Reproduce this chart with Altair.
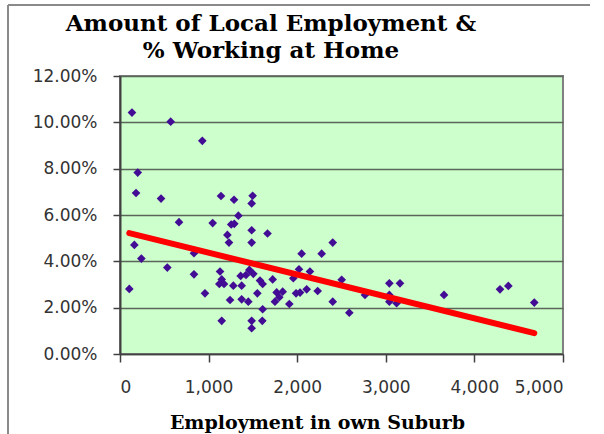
import altair as alt
import pandas as pd

# Employment in own suburb (x) and share working at home (y, fraction)
employment = [135, 572, 929, 200, 181, 463, 1140, 1287, 1497, 1486,
              1336, 666, 1046, 1255, 1290, 1486, 1665, 1212, 1230, 1486,
              162, 241, 835, 534, 835, 105,
              1129, 1148, 1121, 1174, 1279, 1373, 1362, 1422, 1460, 1505,
              1580, 1610, 1723, 959, 1242, 1373, 1448, 1550, 1768, 1836,
              1798, 1749, 1911, 1987, 1956, 1610, 1148, 1486, 1486, 1606,
              2401, 2050, 2276, 2020, 2144, 2502, 2032, 2107, 2231, 2401,
              2588, 2765, 3040, 3160, 3040, 3040, 3122, 3657, 4289, 4383, 4676]
work_home = [0.1042, 0.1003, 0.0920, 0.0783, 0.0695, 0.0671, 0.0682, 0.0666, 0.0683, 0.0650,
             0.0597, 0.0569, 0.0565, 0.0559, 0.0562, 0.0534, 0.0520, 0.0514, 0.0481, 0.0481,
             0.0471, 0.0412, 0.0435, 0.0373, 0.0344, 0.0281,
             0.0356, 0.0322, 0.0302, 0.0302, 0.0295, 0.0295, 0.0337, 0.0341, 0.0363, 0.0346,
             0.0317, 0.0302, 0.0322, 0.0262, 0.0233, 0.0236, 0.0226, 0.0262, 0.0266, 0.0269,
             0.0245, 0.0226, 0.0216, 0.0262, 0.0327, 0.0193, 0.0143, 0.0143, 0.0111, 0.0143,
             0.0481, 0.0433, 0.0433, 0.0366, 0.0356, 0.0320, 0.0265, 0.0279, 0.0272, 0.0226,
             0.0178, 0.0255, 0.0305, 0.0305, 0.0255, 0.0226, 0.0219, 0.0255, 0.0279, 0.0294, 0.0222]

# Linear trend line end points
trend_x = [105, 4676]
trend_y = [0.0522, 0.0090]

x_ticks = [0, 1000, 2000, 3000, 4000, 5000]
y_ticks = [0, 0.02, 0.04, 0.06, 0.08, 0.10, 0.12]

pts = pd.DataFrame({"x": employment, "y": work_home})
trend = pd.DataFrame({"x": trend_x, "y": trend_y})

x_enc = alt.X("x:Q",
              scale=alt.Scale(domain=[0, 5000], nice=False),
              axis=alt.Axis(values=x_ticks, format=",d", grid=False,
                            title="Employment in own Suburb",
                            titleFont="DejaVu Serif", titleFontSize=19,
                            titleFontWeight="bold", titleColor="#000000",
                            titleX=197, titleY=74, titleBaseline="alphabetic",
                            titleAlign="center",
                            labelFont="DejaVu Sans", labelFontSize=17,
                            labelColor="#333333", labelPadding=17,
                            tickSize=8, tickColor="#404040",
                            domainColor="#404040", domainWidth=1.5,
                            tickWidth=1.5))
y_enc = alt.Y("y:Q",
              scale=alt.Scale(domain=[0, 0.12], nice=False),
              axis=alt.Axis(values=y_ticks, format=".2%", title=None,
                            grid=True, gridColor="#5a665a", gridWidth=1.6,
                            labelFont="DejaVu Sans", labelFontSize=17,
                            labelColor="#333333", labelPadding=16,
                            tickSize=7, tickColor="#404040", tickWidth=1.5,
                            domainColor="#404040", domainWidth=2))

points = alt.Chart(pts).mark_point(
    shape="diamond", filled=True, size=75, color="#420c94", opacity=1
).encode(x=x_enc, y=y_enc)

line = alt.Chart(trend).mark_line(
    color="#ff0000", strokeWidth=6, strokeCap="round"
).encode(x="x:Q", y="y:Q")

frame_left = alt.Chart(pts).mark_rule(color="#8a8a8a", strokeWidth=2).encode(
    x=alt.value(-112), y=alt.value(-71), y2=alt.value(360))
frame_top = alt.Chart(pts).mark_rule(color="#8a8a8a", strokeWidth=2).encode(
    x=alt.value(-112), x2=alt.value(470), y=alt.value(-71))

chart = alt.layer(frame_left, frame_top, points, line).properties(
    width=443, height=278,
    autosize=alt.AutoSizeParams(type="none"),
    padding={"left": 120, "top": 76, "right": 41, "bottom": 80},
    background="#ffffff",
    title=alt.TitleParams(
        text=["Amount of Local Employment &", "% Working at Home"],
        font="DejaVu Serif", fontSize=23, fontWeight="bold", color="#000000",
        anchor="start", frame="group", align="center", dx=151, dy=69,
        baseline="top", offset=10, lineHeight=27),
).configure_view(
    fill="#ccffcc", stroke="#808080", strokeWidth=2
)

chart.save("out.html", embed_options={"renderer": "svg", "actions": False})
